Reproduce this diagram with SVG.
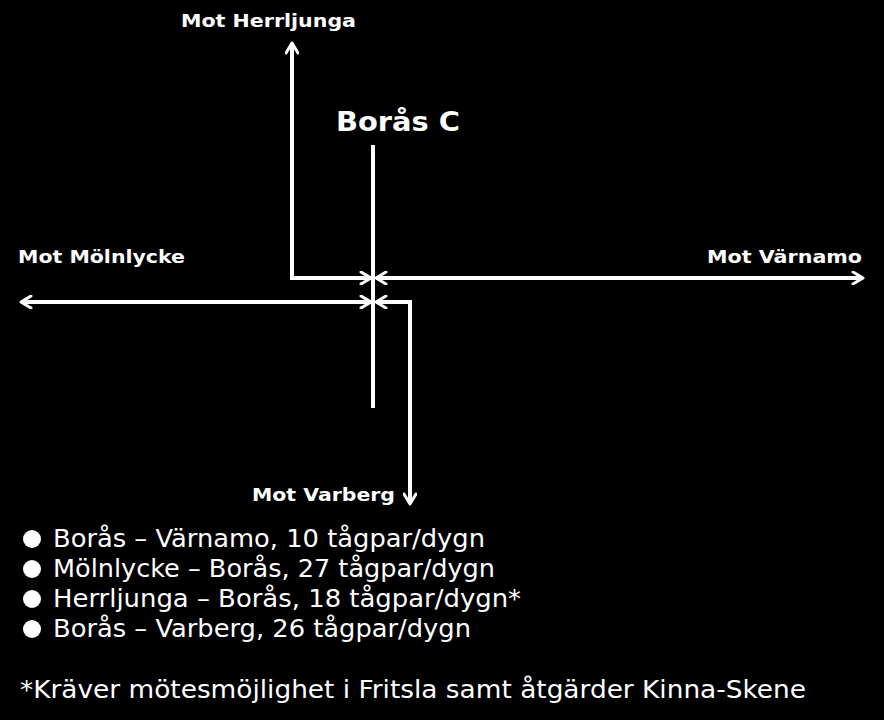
<svg xmlns="http://www.w3.org/2000/svg" width="884" height="720" viewBox="0 0 884 720">
<style>
.l{stroke:#fff;stroke-width:4;fill:none}
.b{font-family:"DejaVu Sans",Verdana,sans-serif;font-weight:bold;fill:#fff;font-size:18px}
.t{font-family:"DejaVu Sans",Verdana,sans-serif;fill:#fff;font-size:24px}
</style>
<defs>
<marker id="a" viewBox="0 0 14 14" refX="12" refY="7" markerWidth="14" markerHeight="14" markerUnits="userSpaceOnUse" orient="auto-start-reverse">
<path d="M2,1 L12,7 L2,13" fill="none" stroke="#fff" stroke-width="3" stroke-linecap="round" stroke-linejoin="round"/>
</marker>
</defs>
<rect width="884" height="720" fill="#000"/>
<g id="station">
<line class="l" x1="373" y1="145" x2="373" y2="408"/>
<text class="b" x="336" y="131" style="font-size:27px" textLength="124" lengthAdjust="spacingAndGlyphs">Borås C</text>
</g>
<g id="connectors">
<path class="l" d="M371,278 H292 V43" marker-start="url(#a)" marker-end="url(#a)"/>
<line class="l" x1="376" y1="278" x2="863" y2="278" marker-start="url(#a)" marker-end="url(#a)"/>
<line class="l" x1="21" y1="302" x2="371" y2="302" marker-start="url(#a)" marker-end="url(#a)"/>
<path class="l" d="M376,302 H410 V504" marker-start="url(#a)" marker-end="url(#a)"/>
</g>
<g id="labels">
<text class="b" x="181" y="27" textLength="175" lengthAdjust="spacingAndGlyphs">Mot Herrljunga</text>
<text class="b" x="18" y="263" textLength="167" lengthAdjust="spacingAndGlyphs">Mot Mölnlycke</text>
<text class="b" x="707" y="263" textLength="155" lengthAdjust="spacingAndGlyphs">Mot Värnamo</text>
<text class="b" x="252" y="501" textLength="143" lengthAdjust="spacingAndGlyphs">Mot Varberg</text>
</g>
<g id="legend">
<circle cx="32" cy="539" r="9" fill="#fff"/>
<circle cx="32" cy="569" r="9" fill="#fff"/>
<circle cx="32" cy="599" r="9" fill="#fff"/>
<circle cx="32" cy="629" r="9" fill="#fff"/>
<text class="t" x="53" y="547" textLength="432" lengthAdjust="spacingAndGlyphs">Borås – Värnamo, 10 tågpar/dygn</text>
<text class="t" x="53" y="577" textLength="442" lengthAdjust="spacingAndGlyphs">Mölnlycke – Borås, 27 tågpar/dygn</text>
<text class="t" x="53" y="607" textLength="468" lengthAdjust="spacingAndGlyphs">Herrljunga – Borås, 18 tågpar/dygn*</text>
<text class="t" x="53" y="637" textLength="418" lengthAdjust="spacingAndGlyphs">Borås – Varberg, 26 tågpar/dygn</text>
<text class="t" x="20" y="698" textLength="786" lengthAdjust="spacingAndGlyphs">*Kräver mötesmöjlighet i Fritsla samt åtgärder Kinna-Skene</text>
</g>
</svg>
